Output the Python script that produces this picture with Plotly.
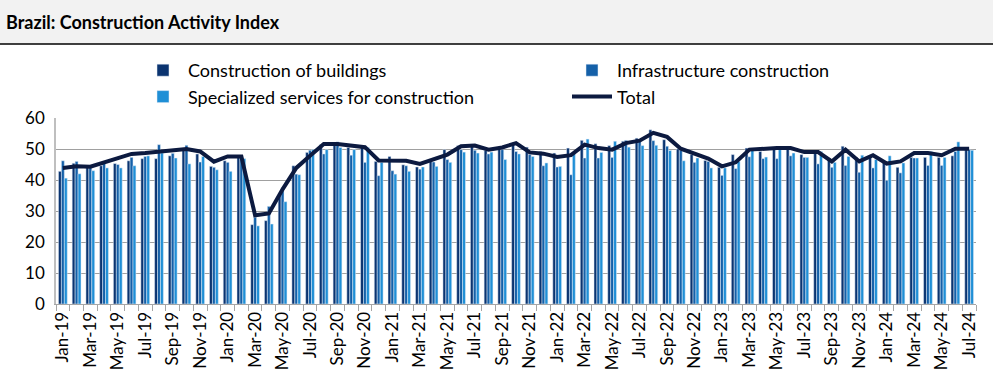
import plotly.graph_objects as go

months = []
for yr in range(19, 25):
    for m in ["Jan", "Feb", "Mar", "Apr", "May", "Jun", "Jul", "Aug", "Sep", "Oct", "Nov", "Dec"]:
        months.append(f"{m}-{yr}")
months = months[:67]  # Jan-19 .. Jul-24

buildings = [42.8, 45.4, 44.5, 44.6, 45.3, 46.2, 46.9, 46.9, 47.8, 50.3, 48.4, 44.4,
             46.2, 47.8, 25.6, 26.9, 35.0, 44.6, 48.9, 51.4, 51.4, 50.5, 50.5, 46.0,
             47.6, 44.9, 44.2, 46.0, 49.8, 51.1, 51.6, 49.5, 50.0, 51.6, 50.6, 49.2,
             48.7, 50.3, 52.8, 51.7, 51.1, 52.5, 53.5, 56.2, 53.0, 50.0, 48.2, 46.3,
             44.1, 48.2, 50.3, 49.2, 50.1, 50.9, 48.2, 49.2, 47.1, 50.9, 47.3, 47.3,
             46.0, 44.1, 47.3, 47.3, 47.3, 47.8, 49.8]
infra = [46.2, 46.0, 44.0, 45.3, 45.0, 47.3, 47.6, 51.4, 48.6, 51.2, 45.8, 44.1,
         45.7, 47.3, 28.0, 31.5, 37.5, 41.9, 49.6, 48.4, 52.3, 48.0, 45.7, 41.4,
         43.0, 44.6, 43.5, 45.8, 46.6, 49.8, 49.6, 48.4, 49.8, 49.2, 48.2, 44.6,
         44.2, 41.7, 47.1, 47.1, 47.3, 52.8, 53.0, 52.7, 50.9, 49.6, 45.7, 46.0,
         41.5, 43.7, 47.5, 46.9, 46.9, 47.8, 47.3, 45.2, 44.1, 44.7, 42.5, 43.9,
         39.9, 42.3, 47.1, 44.7, 44.7, 49.2, 49.8]
special = [40.6, 42.0, 43.0, 43.9, 43.9, 44.6, 47.8, 48.7, 47.1, 45.2, 47.6, 43.3,
           42.8, 46.9, 25.2, 25.8, 33.0, 41.7, 49.8, 49.8, 50.5, 49.8, 50.5, 45.7,
           41.9, 42.8, 44.2, 44.4, 45.7, 49.0, 48.7, 49.0, 46.6, 48.4, 47.6, 45.5,
           44.4, 48.4, 53.2, 48.9, 52.5, 50.6, 51.1, 51.2, 49.5, 46.2, 47.1, 43.9,
           43.9, 46.0, 50.3, 47.4, 49.8, 48.7, 47.3, 49.2, 45.7, 47.6, 48.0, 46.6,
           47.8, 45.5, 47.1, 49.2, 47.3, 52.3, 49.6]
total = [43.9, 44.4, 44.3, 45.7, 46.9, 48.4, 48.7, 49.2, 49.7, 50.0, 49.2, 45.9,
         47.6, 47.6, 28.6, 29.2, 37.0, 43.9, 47.8, 51.6, 51.6, 51.1, 50.6, 46.3,
         46.2, 46.2, 45.2, 46.6, 48.2, 50.9, 51.1, 49.8, 50.5, 51.9, 48.9, 48.5,
         47.4, 48.0, 51.4, 50.3, 49.8, 51.9, 52.7, 55.2, 53.9, 50.1, 48.4, 46.9,
         44.4, 45.7, 49.8, 50.1, 50.3, 50.3, 49.0, 49.0, 46.0, 49.8, 46.0, 48.0,
         45.3, 46.0, 48.7, 48.7, 48.0, 50.1, 50.1]

x = list(range(len(months)))
tick_idx = x[::2]
tick_txt = months[::2]

FONT = "Lato"
fig = go.Figure()
fig.add_trace(go.Bar(x=x, y=buildings, name="Construction of buildings", marker_color="#0b3470",
                     legend="legend", legendgroup="a"))
fig.add_trace(go.Bar(x=x, y=infra, name="Infrastructure construction", marker_color="#1560a8",
                     legend="legend2", legendgroup="b"))
fig.add_trace(go.Bar(x=x, y=special, name="Specialized services for construction", marker_color="#1f8fd6",
                     legend="legend", legendgroup="c"))
fig.add_trace(go.Scatter(x=x, y=total, name="Total", mode="lines",
                         line=dict(color="#0c1a40", width=4), legend="legend2", legendgroup="d"))

# plot area: x 56..976, y 118..304 px
def py(p):
    return (304 - p) / 186.0

def px(p):
    return (p - 56) / 920.0

leg_common = dict(orientation="v", yanchor="top", xanchor="left",
                  font=dict(family=FONT, size=18, color="#000000"),
                  bgcolor="rgba(0,0,0,0)", traceorder="grouped", tracegroupgap=0,
                  itemwidth=40)
fig.update_layout(
    width=993, height=389,
    margin=dict(l=56, r=17, t=118, b=85, autoexpand=False),
    paper_bgcolor="white", plot_bgcolor="white",
    font=dict(family=FONT, color="#000000", size=17),
    barmode="group", bargap=0.36, bargroupgap=0,
    showlegend=True,
    legend=dict(x=px(138), y=py(52), **leg_common),
    legend2=dict(x=px(567), y=py(52), **leg_common),
    shapes=[
        dict(type="rect", xref="paper", yref="paper", x0=px(-2), x1=px(1000), y0=py(44), y1=py(-2),
             fillcolor="#f2f2f2", line=dict(width=0), layer="below"),
        dict(type="line", xref="paper", yref="paper", x0=px(0), x1=px(993), y0=py(44), y1=py(44),
             line=dict(color="#000000", width=1.5)),
    ],
    annotations=[
        dict(text="<b>Brazil: Construction Activity Index</b>", xref="paper", yref="paper",
             x=px(4), y=py(22), xanchor="left", yanchor="middle", showarrow=False,
             font=dict(family=FONT, size=18, color="#000000")),
    ],
)
fig.update_xaxes(
    range=[-0.5, len(months) - 0.5],
    tickmode="array", tickvals=tick_idx, ticktext=tick_txt, tickangle=-90,
    ticks="", showgrid=False, zeroline=False,
    showline=True, linecolor="#a6a6a6", linewidth=1,
    tickfont=dict(family=FONT, size=17, color="#000000"),
    minor=dict(tickmode="linear", tick0=-0.5, dtick=1, ticks="outside", ticklen=6,
               tickcolor="#a6a6a6", showgrid=False),
)
fig.update_yaxes(
    range=[0, 60], dtick=10, showgrid=True, gridcolor="#a0a0a0", gridwidth=1,
    zeroline=False, showline=True, linecolor="#bfbfbf", linewidth=1.5,
    ticks="", tickfont=dict(family=FONT, size=17, color="#000000"), ticklabelstandoff=6,
)
fig.write_html("out.html", config={"displayModeBar": False},
               post_script="document.body.style.margin='0';")
